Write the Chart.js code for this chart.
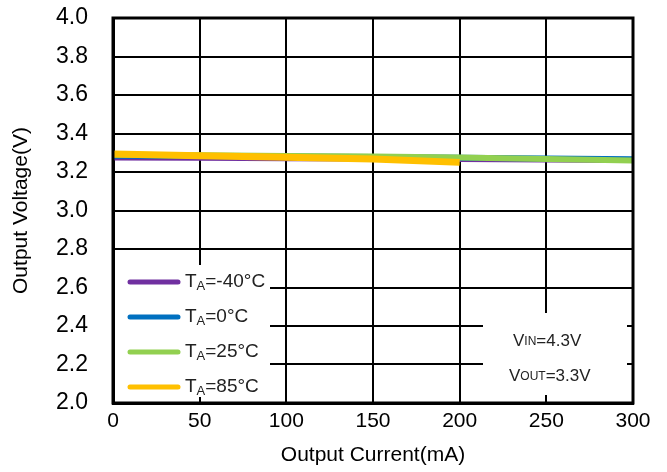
<!DOCTYPE html>
<html>
<head>
<meta charset="utf-8">
<script src="https://cdn.jsdelivr.net/npm/chart.js@4"></script>
<style>
  html, body { margin: 0; padding: 0; background: #fff; }
  #wrap { width: 667px; height: 472px; }
</style>
</head>
<body>
<div id="wrap"><canvas id="grafico" width="667" height="472"></canvas></div>
<script>
// valores
const correntes = [0, 50, 100, 150, 200, 250, 300];
const tensaoMenos40 = [3.275, 3.274, 3.272, 3.270, 3.268, 3.265, 3.262];
const tensao0 = [3.285, 3.283, 3.280, 3.278, 3.274, 3.270, 3.266];
const tensao25 = [3.290, 3.287, 3.283, 3.280, 3.275, 3.268, 3.260];
const tensao85 = [3.293, 3.285, 3.277, 3.267, 3.250];
const rotulosLegenda = ["-40°C", "0°C", "25°C", "85°C"];
const coresSeries = ["#7030A0", "#0070C0", "#92D050", "#FFC000"];

const FONTE = "Arial, 'Liberation Sans', sans-serif";

function pontos(valores) {
    return valores.map((v, i) => ({ x: correntes[i], y: v }));
}

const series = [tensaoMenos40, tensao0, tensao25, tensao85];

// texto com indice (ex: T_A, V_IN)
function textoComIndice(ctx, x, y, base, indice, resto, tamBase, tamIndice, desloc) {
    ctx.font = tamBase + "px " + FONTE;
    ctx.fillText(base, x, y);
    x += ctx.measureText(base).width;
    ctx.font = tamIndice + "px " + FONTE;
    ctx.fillText(indice, x, y + desloc);
    x += ctx.measureText(indice).width;
    ctx.font = tamBase + "px " + FONTE;
    ctx.fillText(resto, x, y);
}

const pluginExtras = {
    id: "extras",
    afterDatasetsDraw(chart) {
        const ctx = chart.ctx;
        const area = chart.chartArea;
        ctx.save();

        // caixas brancas da legenda e das condicoes
        ctx.fillStyle = "#fff";
        ctx.fillRect(115, 265, 155, 132);
        ctx.fillRect(483, 313, 144, 82);

        // legenda
        ctx.textBaseline = "middle";
        ctx.textAlign = "left";
        ctx.fillStyle = "#222";
        const ys = [282, 317, 352, 387];
        ys.forEach((y, i) => {
            ctx.strokeStyle = coresSeries[i];
            ctx.lineWidth = 5;
            ctx.lineCap = "round";
            ctx.beginPath();
            ctx.moveTo(130, y);
            ctx.lineTo(178, y);
            ctx.stroke();
            textoComIndice(ctx, 185, y, "T", "A", "=" + rotulosLegenda[i], 19, 13, 4);
        });

        // condicoes de teste
        ctx.fillStyle = "#222";
        textoComIndice(ctx, 513, 341, "V", "IN", "=4.3V", 17, 12, 1);
        textoComIndice(ctx, 509, 376, "V", "OUT", "=3.3V", 17, 12, 1);

        // moldura
        ctx.strokeStyle = "#000";
        ctx.lineWidth = 3;
        ctx.strokeRect(area.left, area.top, area.right - area.left, area.bottom - area.top);
        ctx.restore();
    }
};

const conjuntos = series.map((valores, i) => ({
    label: "TA=" + rotulosLegenda[i],
    data: pontos(valores),
    borderColor: coresSeries[i],
    backgroundColor: coresSeries[i],
    borderWidth: i === 3 ? 7 : 6,
    pointRadius: 0,
    tension: 0,
    order: 3 - i,
}));

new Chart(document.getElementById("grafico").getContext("2d"), {
    type: "line",
    data: { datasets: conjuntos },
    options: {
        responsive: false,
        animation: false,
        layout: { padding: { top: 18, right: 34, left: 0, bottom: 0 } },
        plugins: { legend: { display: false }, tooltip: { enabled: false } },
        scales: {
            x: {
                type: "linear",
                min: 0,
                max: 300,
                ticks: { stepSize: 50, color: "#000", padding: 6, font: { size: 21, family: FONTE } },
                grid: { color: "#000", lineWidth: 2, drawTicks: false },
                border: { color: "#000", width: 3 },
                title: { display: true, text: "Output Current(mA)", color: "#000", font: { size: 21, family: FONTE }, padding: { top: 0, bottom: 4 } },
                afterFit: (escala) => {
                    escala.height = 69;
                    escala.paddingLeft = 0;
                    escala.paddingRight = 0;
                },
            },
            y: {
                min: 2.0,
                max: 4.0,
                ticks: {
                    stepSize: 0.2,
                    color: "#000",
                    padding: 25,
                    font: { size: 23, family: FONTE },
                    callback: (v) => v.toFixed(1),
                },
                grid: { color: "#000", lineWidth: 2, drawTicks: false },
                border: { color: "#000", width: 3 },
                title: { display: true, text: "Output Voltage(V)", color: "#000", font: { size: 21, family: FONTE }, padding: { top: 9, bottom: 0 } },
                afterFit: (escala) => {
                    escala.width = 113;
                    escala.paddingTop = 0;
                    escala.paddingBottom = 0;
                },
            },
        },
    },
    plugins: [pluginExtras],
});
</script>
</body>
</html>
